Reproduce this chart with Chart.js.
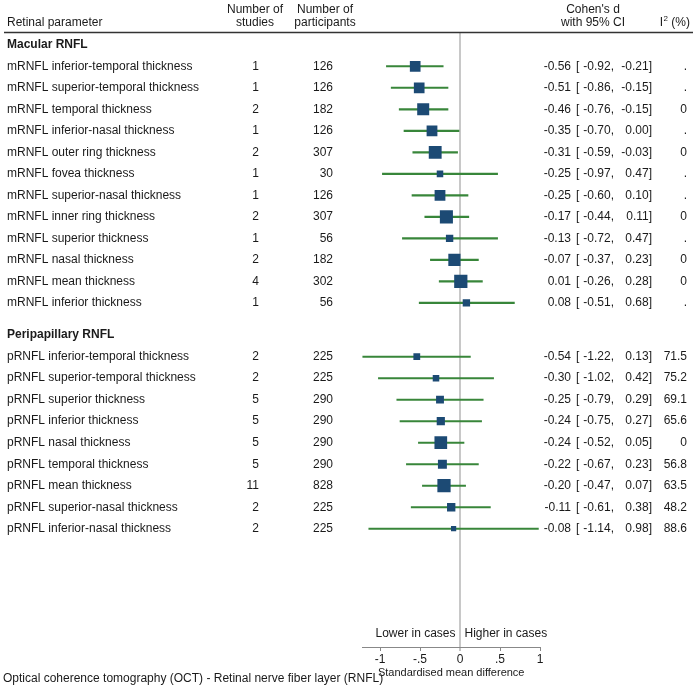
<!DOCTYPE html>
<html>
<head>
<meta charset="utf-8">
<title>Forest plot - OCT RNFL</title>
<script src="https://cdn.jsdelivr.net/npm/chart.js@4"></script>
<style>
  html, body { margin: 0; padding: 0; background: #fff; }
  #forest { display: block; }
</style>
</head>
<body>
<canvas id="forest" width="700" height="690"></canvas>
<script>
/***************************************************/
/********************** DATA ***********************/
/***************************************************/
const macularParams = [
    'mRNFL inferior-temporal thickness', 'mRNFL superior-temporal thickness', 'mRNFL temporal thickness',
    'mRNFL inferior-nasal thickness', 'mRNFL outer ring thickness', 'mRNFL fovea thickness',
    'mRNFL superior-nasal thickness', 'mRNFL inner ring thickness', 'mRNFL superior thickness',
    'mRNFL nasal thickness', 'mRNFL mean thickness', 'mRNFL inferior thickness'
];
const macularStudies = [1, 1, 2, 1, 2, 1, 1, 2, 1, 2, 4, 1];
const macularParticipants = [126, 126, 182, 126, 307, 30, 126, 307, 56, 182, 302, 56];
const macularD = [-0.56, -0.51, -0.46, -0.35, -0.31, -0.25, -0.25, -0.17, -0.13, -0.07, 0.01, 0.08];
const macularLow = [-0.92, -0.86, -0.76, -0.70, -0.59, -0.97, -0.60, -0.44, -0.72, -0.37, -0.26, -0.51];
const macularHigh = [-0.21, -0.15, -0.15, 0.00, -0.03, 0.47, 0.10, 0.11, 0.47, 0.23, 0.28, 0.68];
const macularI2 = ['.', '.', '0', '.', '0', '.', '.', '0', '.', '0', '0', '.'];

const periParams = [
    'pRNFL inferior-temporal thickness', 'pRNFL superior-temporal thickness', 'pRNFL superior thickness',
    'pRNFL inferior thickness', 'pRNFL nasal thickness', 'pRNFL temporal thickness',
    'pRNFL mean thickness', 'pRNFL superior-nasal thickness', 'pRNFL inferior-nasal thickness'
];
const periStudies = [2, 2, 5, 5, 5, 5, 11, 2, 2];
const periParticipants = [225, 225, 290, 290, 290, 290, 828, 225, 225];
const periD = [-0.54, -0.30, -0.25, -0.24, -0.24, -0.22, -0.20, -0.11, -0.08];
const periLow = [-1.22, -1.02, -0.79, -0.75, -0.52, -0.67, -0.47, -0.61, -1.14];
const periHigh = [0.13, 0.42, 0.29, 0.27, 0.05, 0.23, 0.07, 0.38, 0.98];
const periI2 = ['71.5', '75.2', '69.1', '65.6', '0', '56.8', '63.5', '48.2', '88.6'];

const xTickValues = [-1, -0.5, 0, 0.5, 1];

/***************************************************/
/******************* BUILD ROWS ********************/
/***************************************************/
// row slot on the y scale: group header, then one slot per parameter
const rows = [];
const headers = [{ text: 'Macular RNFL', slot: 0 }, { text: 'Peripapillary RNFL', slot: 13.5 }];
macularParams.forEach((p, i) => rows.push({
    label: p, studies: macularStudies[i], n: macularParticipants[i],
    d: macularD[i], lo: macularLow[i], hi: macularHigh[i], i2: macularI2[i], slot: 1 + i
}));
periParams.forEach((p, i) => rows.push({
    label: p, studies: periStudies[i], n: periParticipants[i],
    d: periD[i], lo: periLow[i], hi: periHigh[i], i2: periI2[i], slot: 14.5 + i
}));

const FONT = '"Liberation Sans", Arial, Helvetica, sans-serif';
const TXT = '#1a1a1a';

function fmtTick(v) {
    if (v === 0) return '0';
    return (v < 0 ? '-' : '') + String(Math.abs(v)).replace(/^0/, '');
}

// box side shrinks with CI width (inverse-variance weight)
function boxRadius(r) {
    const side = 2.5 + 5.8 / (r.hi - r.lo);
    return side / Math.SQRT2;
}

/***************************************************/
/**************** TEXT COLUMNS PLUGIN **************/
/***************************************************/
const forestText = {
    id: 'forestText',
    afterDraw(chart) {
        const ctx = chart.ctx;
        const ys = chart.scales.y;
        const xs = chart.scales.x;
        ctx.save();
        ctx.fillStyle = TXT;
        ctx.textBaseline = 'middle';
        ctx.font = '12px ' + FONT;

        // column headers
        ctx.textAlign = 'left';
        ctx.fillText('Retinal parameter', 7, 23);
        ctx.textAlign = 'center';
        ctx.fillText('Number of', 255, 10);
        ctx.fillText('studies', 255, 23);
        ctx.fillText('Number of', 325, 10);
        ctx.fillText('participants', 325, 23);
        ctx.fillText("Cohen's d", 593, 10);
        ctx.fillText('with 95% CI', 593, 23);
        ctx.textAlign = 'right';
        ctx.fillText(' (%)', 690, 23);
        const w = ctx.measureText(' (%)').width;
        ctx.font = '8px ' + FONT;
        ctx.fillText('2', 690 - w, 19);
        const w2 = ctx.measureText('2').width;
        ctx.font = '12px ' + FONT;
        ctx.fillText('I', 690 - w - w2 - 0.5, 23);

        // rule under headers
        ctx.strokeStyle = '#333';
        ctx.lineWidth = 1.5;
        ctx.beginPath();
        ctx.moveTo(4, 32.5);
        ctx.lineTo(693, 32.5);
        ctx.stroke();

        // group headers
        ctx.font = 'bold 12px ' + FONT;
        ctx.textAlign = 'left';
        headers.forEach(h => ctx.fillText(h.text, 7, ys.getPixelForValue(h.slot)));

        // rows
        ctx.font = '12px ' + FONT;
        rows.forEach(r => {
            const y = ys.getPixelForValue(r.slot);
            ctx.textAlign = 'left';
            ctx.fillText(r.label, 7, y);
            ctx.textAlign = 'right';
            ctx.fillText(String(r.studies), 259, y);
            ctx.fillText(String(r.n), 333, y);
            ctx.fillText(r.d.toFixed(2), 571, y);
            ctx.fillText(r.lo.toFixed(2) + ',', 614, y);
            ctx.fillText(r.hi.toFixed(2) + ']', 652, y);
            ctx.fillText(r.i2, 687, y);
            ctx.textAlign = 'left';
            ctx.fillText('[', 576, y);
        });

        // direction labels either side of zero
        const x0 = xs.getPixelForValue(0);
        ctx.textAlign = 'right';
        ctx.fillText('Lower in cases', x0 - 4.5, 634);
        ctx.textAlign = 'left';
        ctx.fillText('Higher in cases', x0 + 4.5, 634);

        // footer
        ctx.fillText('Optical coherence tomography (OCT) - Retinal nerve fiber layer (RNFL)', 3, 679);
        ctx.restore();
    }
};

/***************************************************/
/********************* CHART ***********************/
/***************************************************/
const canvas = document.getElementById('forest').getContext('2d');
new Chart(canvas, {
    type: 'scatter',
    data: {
        datasets: [{
            type: 'scatter',
            label: "Cohen's d",
            data: rows.map(r => ({ x: r.d, y: r.slot })),
            backgroundColor: '#1c4a74',
            borderWidth: 0,
            pointStyle: 'rect',
            pointRadius: ctx => boxRadius(rows[ctx.dataIndex]),
            pointHoverRadius: ctx => boxRadius(rows[ctx.dataIndex]),
            order: 0
        }, {
            type: 'bar',
            label: '95% CI',
            indexAxis: 'y',
            data: rows.map(r => ({ x: [r.lo, r.hi], y: r.slot })),
            backgroundColor: '#38863a',
            borderWidth: 0,
            barThickness: 1.4,
            grouped: false,
            order: 1
        }]
    },
    plugins: [forestText],
    options: {
        responsive: false,
        animation: false,
        devicePixelRatio: 1,
        layout: { padding: { left: 362.4, right: 160, top: 33, bottom: 0 } },
        plugins: {
            legend: { display: false },
            tooltip: { enabled: false }
        },
        scales: {
            x: {
                type: 'linear',
                min: -1.22,
                max: 1,
                offset: false,
                afterBuildTicks: scale => { scale.ticks = xTickValues.map(v => ({ value: v })); },
                afterFit: scale => { scale.height = 43; },
                grid: {
                    offset: false,
                    drawOnChartArea: true,
                    color: c => (c.tick && c.tick.value === 0) ? '#c8c8c8' : 'rgba(0,0,0,0)',
                    lineWidth: c => (c.tick && c.tick.value === 0) ? 2 : 1,
                    tickColor: '#888',
                    tickWidth: 1,
                    tickLength: 4
                },
                border: { display: true, color: '#888', width: 1 },
                ticks: {
                    autoSkip: false,
                    maxRotation: 0,
                    padding: 1,
                    color: TXT,
                    font: { family: FONT, size: 12 },
                    callback: v => fmtTick(v)
                },
                title: {
                    display: true,
                    text: 'Standardised mean difference',
                    color: TXT,
                    font: { family: FONT, size: 11 },
                    padding: { top: 0, bottom: 10 }
                }
            },
            y: {
                type: 'linear',
                display: false,
                reverse: true,
                offset: false,
                grid: { offset: false },
                min: -0.55,
                max: 28
            }
        }
    }
});
</script>
</body>
</html>
